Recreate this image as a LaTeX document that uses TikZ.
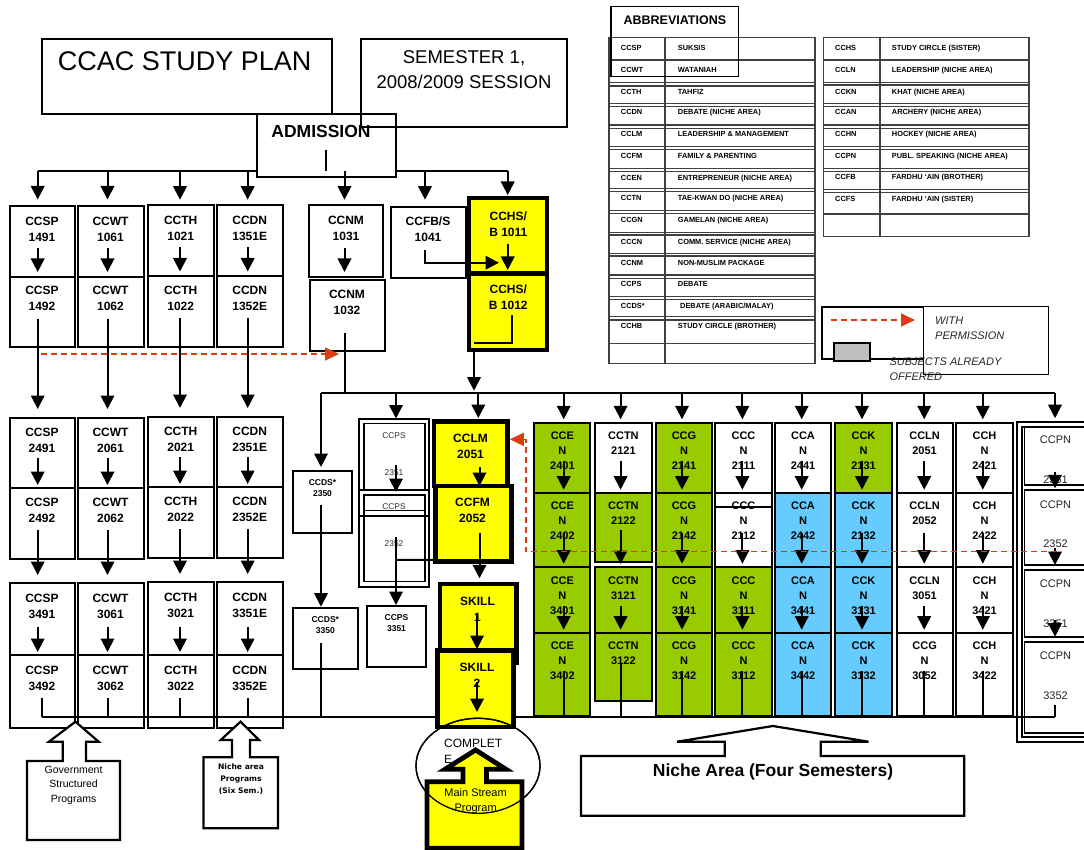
\documentclass[tikz,border=0pt]{standalone}
\usepackage{fontspec}
\setmainfont{Liberation Sans}
\newfontfamily\dejav{DejaVu Sans}
\usetikzlibrary{arrows.meta,calc}
\definecolor{nicheg}{RGB}{153,204,0}
\definecolor{nicheb}{RGB}{102,204,255}
\definecolor{yel}{RGB}{255,255,0}
\definecolor{permred}{RGB}{220,60,15}
\definecolor{legray}{RGB}{190,190,190}
\newcommand\mybx[6]{\node[#6, minimum width={(#4)-(#2)}, minimum height={(#5)-(#3)}] (#1) at ({((#2)+(#4))/2},{((#3)+(#5))/2}) {};}
\newcommand\myvl[5]{\draw[arr] ($(#1 |- #2.center)+(0,#3)$) -- ($(#1 |- #4.north)+(0,-#5)$);}
\newcommand\mygcol[5]{%
  \draw[arr] (#1 |- bus2) -- ($(#1 |- #2.north)+(0,-4)$);
  \myvl{#1}{#2}{3}{#3}{3}
  \myvl{#1}{#3}{3}{#4}{3}
  \myvl{#1}{#4}{6}{#5}{3}
  \draw[lnk] ($(#1 |- #5.center)+(0,-3)$) -- (#1 |- busB);}
\tikzset{
  bx/.style={draw, rectangle, line width=2pt, fill=white, inner sep=0pt, outer sep=0pt},
  ybx/.style={bx, line width=4.8pt, fill=yel},
  gbx/.style={bx, fill=nicheg},
  bbx/.style={bx, fill=nicheb},
  lnk/.style={line width=2pt},
  arr/.style={line width=2pt, -{Triangle[width=13.5pt,length=13.5pt]}},
  perm/.style={draw=permred, line width=1.7pt, dash pattern=on 6pt off 4pt, -{Triangle[width=13pt,length=14pt]}},
  lbt/.style={font=\fontsize{12}{16}\selectfont\bfseries, align=center, inner sep=0pt},
  grt/.style={font=\fontsize{11}{15}\selectfont\bfseries, align=center, inner sep=0pt},
  smt/.style={font=\fontsize{8.5}{11}\selectfont\bfseries, align=center, inner sep=0pt},
  smp/.style={font=\fontsize{8.4}{10}\selectfont, inner sep=0pt, text=black!80},
  pnt/.style={font=\fontsize{11}{13}\selectfont, inner sep=0pt, text=black!85},
  abt/.style={font=\fontsize{7.4}{9}\selectfont\bfseries, anchor=base west, inner sep=0pt},
  tbl/.style={line width=1.3pt, draw=black!75},
  lgt/.style={font=\fontsize{11}{13}\selectfont\itshape, anchor=base west, inner sep=0pt, text=black!85},
  cout/.style={draw, line width=2.2pt, fill=white, line join=miter},
}
\begin{document}
\begin{tikzpicture}[x=1pt,y=-1pt]
\useasboundingbox (0,0) rectangle (1084,850);
\clip (0,0) rectangle (1084,850);

% ---------- reference coordinates
\coordinate (busT) at (0,171);
\coordinate (bus2) at (0,392.7);
\coordinate (busB) at (0,717);
\coordinate (xA) at (37.7,0);
\coordinate (xB) at (107.5,0);
\coordinate (xC) at (180,0);
\coordinate (xD) at (247.7,0);
\coordinate (xN) at (344.5,0);
\coordinate (xF) at (425,0);
\coordinate (xH) at (507.7,0);
\coordinate (xHS) at (474,0);
\coordinate (xS) at (321,0);
\coordinate (xPS) at (396,0);
\coordinate (xL) at (478.3,0);
\coordinate (xLM) at (479.5,0);
\coordinate (xSK) at (477,0);
\coordinate (xe) at (563.7,0);
\coordinate (xt) at (620.6,0);
\coordinate (xg) at (682,0);
\coordinate (xc) at (742.4,0);
\coordinate (xa) at (801.7,0);
\coordinate (xk) at (862,0);
\coordinate (xl) at (924.2,0);
\coordinate (xh) at (982.8,0);
\coordinate (xp) at (1055,0);

% ---------- header
\mybx{ccac}{41.5}{39}{332}{114}{bx,fill=none}
\node[font=\fontsize{27}{30}\selectfont, inner sep=0pt] (ccact) at (184.6,61.7) {CCAC STUDY PLAN};
\mybx{adm}{257}{114}{396}{177}{bx}
\node[font=\fontsize{17.5}{20}\selectfont\bfseries, inner sep=0pt] (admt) at (321,131.7) {ADMISSION};
\draw[line width=1.4pt] ($(adm.south)+(-0.5,-27)$) -- ($(adm.south)+(-0.5,-6)$);
\mybx{sem}{361}{39}{567}{127}{bx,fill=none}
\node[font=\fontsize{18.5}{24.4}\selectfont, align=center, inner sep=0pt] (semt) at (464,69.5) {SEMESTER 1,\\2008/2009 SESSION};

% ---------- abbreviations
\draw[tbl] (609,37.7) rectangle (815,363.3);
\draw[tbl, line width=2pt] (665,37.7) -- (665,363.3);
\foreach \yy in {60,82.7,86,103.3,106.7,125,128.3,146.7,149.3,168.3,171.7,188.3,191.7,210.7,213.3,232.3,235,253.3,256,275,278.3,296.7,299.3,316.7,320,343.3}
  \draw[tbl] (609,\yy) -- (815,\yy);
\draw[tbl] (823.3,37.7) rectangle (1029,236.7);
\draw[tbl, line width=2pt] (880,37.7) -- (880,236.7);
\foreach \yy in {60,82.7,85,103.3,106.7,125,128.3,146.7,149.3,168.3,171.7,189.3,192.7,214}
  \draw[tbl] (823.3,\yy) -- (1029,\yy);
\mybx{abbr}{611}{6.7}{738.3}{76.7}{bx,fill=none,line width=1.5pt}
\node[font=\fontsize{12.5}{14}\selectfont\bfseries, inner sep=0pt] (abbrt) at (674.9,20) {ABBREVIATIONS};

\node[abt] (ac1) at (620.7,50.95) {CCSP};   \node[abt] (ad1) at (677.7,50.95) {SUKSIS};
\node[abt] (ac2) at (620.7,72.65) {CCWT};   \node[abt] (ad2) at (677.7,72.65) {WATANIAH};
\node[abt] (ac3) at (620.7,94.95) {CCTH};   \node[abt] (ad3) at (677.7,94.95) {TAHFIZ};
\node[abt] (ac4) at (620.7,114.95) {CCDN};  \node[abt] (ad4) at (677.7,114.95) {DEBATE (NICHE AREA)};
\node[abt] (ac5) at (620.7,136.95) {CCLM};  \node[abt] (ad5) at (677.7,136.95) {LEADERSHIP \& MANAGEMENT};
\node[abt] (ac6) at (620.7,158.95) {CCFM};  \node[abt] (ad6) at (677.7,158.95) {FAMILY \& PARENTING};
\node[abt] (ac7) at (620.7,180.95) {CCEN};  \node[abt] (ad7) at (677.7,180.95) {ENTREPRENEUR (NICHE AREA)};
\node[abt] (ac8) at (620.7,200.95) {CCTN};  \node[abt] (ad8) at (677.7,200.95) {TAE-KWAN DO (NICHE AREA)};
\node[abt] (ac9) at (620.7,222.95) {CCGN};  \node[abt] (ad9) at (677.7,222.95) {GAMELAN (NICHE AREA)};
\node[abt] (ac10) at (620.7,244.95) {CCCN}; \node[abt] (ad10) at (677.7,244.95) {COMM. SERVICE (NICHE AREA)};
\node[abt] (ac11) at (620.7,265.95) {CCNM}; \node[abt] (ad11) at (677.7,265.95) {NON-MUSLIM PACKAGE};
\node[abt] (ac12) at (620.7,286.95) {CCPS}; \node[abt] (ad12) at (677.7,286.95) {DEBATE};
\node[abt] (ac13) at (620.7,308.95) {CCDS*}; \node[abt] (ad13) at (680,308.95) {DEBATE (ARABIC/MALAY)};
\node[abt] (ac14) at (620.7,328.95) {CCHB}; \node[abt] (ad14) at (677.7,328.95) {STUDY CIRCLE (BROTHER)};

\node[abt] (bc1) at (835,50.95) {CCHS};  \node[abt] (bd1) at (891.7,50.95) {STUDY CIRCLE (SISTER)};
\node[abt] (bc2) at (835,72.65) {CCLN};  \node[abt] (bd2) at (891.7,72.65) {LEADERSHIP (NICHE AREA)};
\node[abt] (bc3) at (835,94.95) {CCKN};  \node[abt] (bd3) at (891.7,94.95) {KHAT (NICHE AREA)};
\node[abt] (bc4) at (835,114.95) {CCAN}; \node[abt] (bd4) at (891.7,114.95) {ARCHERY (NICHE AREA)};
\node[abt] (bc5) at (835,136.95) {CCHN}; \node[abt] (bd5) at (891.7,136.95) {HOCKEY (NICHE AREA)};
\node[abt] (bc6) at (835,158.95) {CCPN}; \node[abt] (bd6) at (891.7,158.95) {PUBL. SPEAKING (NICHE AREA)};
\node[abt] (bc7) at (835,179.95) {CCFB}; \node[abt] (bd7) at (891.7,179.95) {FARDHU ‘AIN (BROTHER)};
\node[abt] (bc8) at (835,201.95) {CCFS}; \node[abt] (bd8) at (891.7,201.95) {FARDHU ‘AIN (SISTER)};

% ---------- legend
\mybx{lg1}{821.7}{306.7}{923.3}{359}{bx,fill=none,line width=1.6pt}
\mybx{lg2}{923.3}{306.7}{1048.3}{374.3}{bx,fill=none,line width=1.6pt}
\mybx{lgg}{834.3}{342.7}{870}{361}{bx,fill=legray}
\draw[perm] ($(lg1.north west)+(9,13.3)$) -- ($(lg1.north west)+(93.3,13.3)$);
\node[lgt] (lgw) at (935,324) {WITH};
\node[lgt] (lgp) at (935,339) {PERMISSION};
\node[lgt] (lgs) at (889.3,365) {SUBJECTS ALREADY};
\node[lgt] (lgo) at (889.3,380.6) {OFFERED};

% ---------- left grid boxes
\mybx{sp1}{9.5}{206}{74.5}{277}{bx}
\mybx{sp2}{9.5}{277}{74.5}{347}{bx}
\mybx{sp3}{9.5}{418}{74.5}{488}{bx}
\mybx{sp4}{9.5}{488}{74.5}{559}{bx}
\mybx{sp5}{9.5}{583}{74.5}{655}{bx}
\mybx{sp6}{9.5}{655}{74.5}{728}{bx}
\mybx{wt1}{78}{206}{143.5}{277}{bx}
\mybx{wt2}{78}{277}{143.5}{347}{bx}
\mybx{wt3}{78}{418}{143.5}{488}{bx}
\mybx{wt4}{78}{488}{143.5}{559}{bx}
\mybx{wt5}{78}{583}{143.5}{655}{bx}
\mybx{wt6}{78}{655}{143.5}{728}{bx}
\mybx{th1}{148}{204.7}{213.5}{276.5}{bx}
\mybx{th2}{148}{276.5}{213.5}{347}{bx}
\mybx{th3}{148}{417}{213.5}{487}{bx}
\mybx{th4}{148}{487}{213.5}{558}{bx}
\mybx{th5}{148}{582}{213.5}{655}{bx}
\mybx{th6}{148}{655}{213.5}{728}{bx}
\mybx{dn1}{217}{204.7}{282.5}{276.5}{bx}
\mybx{dn2}{217}{276.5}{282.5}{347}{bx}
\mybx{dn3}{217}{417}{282.5}{487}{bx}
\mybx{dn4}{217}{487}{282.5}{558}{bx}
\mybx{dn5}{217}{582}{282.5}{655}{bx}
\mybx{dn6}{217}{655}{282.5}{728}{bx}

\node[lbt] (tsp1) at (42,229) {CCSP\\1491};
\node[lbt] (tsp2) at (42,298.5) {CCSP\\1492};
\node[lbt] (tsp3) at (42,440) {CCSP\\2491};
\node[lbt] (tsp4) at (42,510) {CCSP\\2492};
\node[lbt] (tsp5) at (42,606) {CCSP\\3491};
\node[lbt] (tsp6) at (42,678) {CCSP\\3492};
\node[lbt] (twt1) at (110.5,229) {CCWT\\1061};
\node[lbt] (twt2) at (110.5,298.5) {CCWT\\1062};
\node[lbt] (twt3) at (110.5,440) {CCWT\\2061};
\node[lbt] (twt4) at (110.5,510) {CCWT\\2062};
\node[lbt] (twt5) at (110.5,606) {CCWT\\3061};
\node[lbt] (twt6) at (110.5,678) {CCWT\\3062};
\node[lbt] (tth1) at (180.7,228) {CCTH\\1021};
\node[lbt] (tth2) at (180.7,298) {CCTH\\1022};
\node[lbt] (tth3) at (180.7,439) {CCTH\\2021};
\node[lbt] (tth4) at (180.7,509) {CCTH\\2022};
\node[lbt] (tth5) at (180.7,605) {CCTH\\3021};
\node[lbt] (tth6) at (180.7,678) {CCTH\\3022};
\node[lbt] (tdn1) at (249.7,228) {CCDN\\1351E};
\node[lbt] (tdn2) at (249.7,298) {CCDN\\1352E};
\node[lbt] (tdn3) at (249.7,439) {CCDN\\2351E};
\node[lbt] (tdn4) at (249.7,509) {CCDN\\2352E};
\node[lbt] (tdn5) at (249.7,605) {CCDN\\3351E};
\node[lbt] (tdn6) at (249.7,678) {CCDN\\3352E};

% ---------- middle boxes
\mybx{nm1}{308.7}{204.7}{383}{277.3}{bx}
\mybx{nm2}{310}{280}{385}{351}{bx}
\mybx{fb}{390.5}{206.7}{465.5}{278}{bx}
\node[lbt] (tnm1) at (346,228) {CCNM\\1031};
\node[lbt] (tnm2) at (347,302.3) {CCNM\\1032};
\node[lbt] (tfb) at (428,229) {CCFB/S\\1041};

\mybx{ds1}{292.7}{470.7}{352.3}{532.7}{bx}
\mybx{ds2}{292.7}{607.7}{358}{669}{bx}
\node[smt] (tds1) at (322.5,488.3) {CCDS*\\2350};
\node[smt] (tds2) at (325.3,624.8) {CCDS*\\3350};

\mybx{psf}{359}{419}{429}{586.5}{bx}
\mybx{ps1}{364}{423.3}{425}{490}{bx,line width=1.5pt}
\mybx{ps2}{364}{495}{425}{581.7}{bx,line width=1.5pt}
\draw[line width=1.5pt] ($(psf.north west)+(0,71)$) -- ($(psf.north east)+(0,71)$);
\draw[line width=1.5pt] ($(psf.north west)+(0,97)$) -- ($(psf.north east)+(0,97)$);
\node[smp] (tps1a) at (394,436) {CCPS};
\node[smp] (tps1b) at (394,472.7) {2351};
\node[smp] (tps2a) at (394,506.7) {CCPS};
\node[smp] (tps2b) at (394,544) {2352};
\draw[line width=1pt] ($(ps2.north west)+(0,15.7)$) -- ($(ps2.north east)+(0,15.7)$);
\mybx{ps3}{367.3}{606}{426}{667.3}{bx}
\node[smt] (tps3) at (396.5,623.3) {CCPS\\3351};

% ---------- niche grid
\mybx{e1}{534.3}{423.3}{590.4}{492.7}{gbx}
\mybx{e2}{534.3}{492.7}{590.4}{566.7}{gbx}
\mybx{e3}{534.3}{566.7}{590.4}{632.7}{gbx}
\mybx{e4}{534.3}{632.7}{590.4}{716}{gbx}
\mybx{t1}{595}{423.3}{651.8}{492.7}{bx}
\mybx{t2}{595}{492.7}{651.8}{562}{gbx}
\mybx{t3}{595}{567}{651.8}{632.7}{gbx}
\mybx{t4}{595}{632.7}{651.8}{700.7}{gbx}
\mybx{g1}{656}{423.3}{712}{492.7}{gbx}
\mybx{g2}{656}{492.7}{712}{566.7}{gbx}
\mybx{g3}{656}{566.7}{712}{632.7}{gbx}
\mybx{g4}{656}{632.7}{712}{716}{gbx}
\mybx{cc1}{715.4}{423.3}{771.5}{492.7}{bx}
\mybx{cc2}{715.4}{492.7}{771.5}{566.7}{bx}
\mybx{cc3}{715.4}{566.7}{771.5}{632.7}{gbx}
\mybx{cc4}{715.4}{632.7}{771.5}{716}{gbx}
\mybx{a1}{775}{423.3}{831}{492.7}{bx}
\mybx{a2}{775}{492.7}{831}{566.7}{bbx}
\mybx{a3}{775}{566.7}{831}{632.7}{bbx}
\mybx{a4}{775}{632.7}{831}{716}{bbx}
\mybx{k1}{835.4}{423.3}{891.5}{492.7}{gbx}
\mybx{k2}{835.4}{492.7}{891.5}{566.7}{bbx}
\mybx{k3}{835.4}{566.7}{891.5}{632.7}{bbx}
\mybx{k4}{835.4}{632.7}{891.5}{716}{bbx}
\mybx{l1}{896.5}{423.3}{952.6}{492.7}{bx}
\mybx{l2}{896.5}{492.7}{952.6}{566.7}{bx}
\mybx{l3}{896.5}{566.7}{952.6}{632.7}{bx}
\mybx{l4}{896.5}{632.7}{952.6}{716}{bx}
\mybx{h1}{956}{423.3}{1013}{492.7}{bx}
\mybx{h2}{956}{492.7}{1013}{566.7}{bx}
\mybx{h3}{956}{566.7}{1013}{632.7}{bx}
\mybx{h4}{956}{632.7}{1013}{716}{bx}
\draw[line width=1.6pt] ($(cc2.north west)+(0,14)$) -- ($(cc2.north east)+(0,14)$);

\node[grt] (te1) at (562.4,451) {CCE\\N\\2401};
\node[grt] (te2) at (562.4,521) {CCE\\N\\2402};
\node[grt] (te3) at (562.4,596) {CCE\\N\\3401};
\node[grt] (te4) at (562.4,661) {CCE\\N\\3402};
\node[grt] (tt1) at (623.4,443.5) {CCTN\\2121};
\node[grt] (tt2) at (623.4,513.5) {CCTN\\2122};
\node[grt] (tt3) at (623.4,588.5) {CCTN\\3121};
\node[grt] (tt4) at (623.4,653.5) {CCTN\\3122};
\node[grt] (tg1) at (684,451) {CCG\\N\\2141};
\node[grt] (tg2) at (684,521) {CCG\\N\\2142};
\node[grt] (tg3) at (684,596) {CCG\\N\\3141};
\node[grt] (tg4) at (684,661) {CCG\\N\\3142};
\node[grt] (tc1) at (743.5,451) {CCC\\N\\2111};
\node[grt] (tc2) at (743.5,521) {CCC\\N\\2112};
\node[grt] (tc3) at (743.5,596) {CCC\\N\\3111};
\node[grt] (tc4) at (743.5,661) {CCC\\N\\3112};
\node[grt] (ta1) at (803,451) {CCA\\N\\2441};
\node[grt] (ta2) at (803,521) {CCA\\N\\2442};
\node[grt] (ta3) at (803,596) {CCA\\N\\3441};
\node[grt] (ta4) at (803,661) {CCA\\N\\3442};
\node[grt] (tk1) at (863.5,451) {CCK\\N\\2131};
\node[grt] (tk2) at (863.5,521) {CCK\\N\\2132};
\node[grt] (tk3) at (863.5,596) {CCK\\N\\3131};
\node[grt] (tk4) at (863.5,661) {CCK\\N\\3132};
\node[grt] (tl1) at (924.6,443.5) {CCLN\\2051};
\node[grt] (tl2) at (924.6,513.5) {CCLN\\2052};
\node[grt] (tl3) at (924.6,588.5) {CCLN\\3051};
\node[grt] (tl4) at (924.6,661) {CCG\\N\\3052};
\node[grt] (th1t) at (984.5,451) {CCH\\N\\2421};
\node[grt] (th2t) at (984.5,521) {CCH\\N\\2422};
\node[grt] (th3t) at (984.5,596) {CCH\\N\\3421};
\node[grt] (th4t) at (984.5,661) {CCH\\N\\3422};

% ---------- CCPN column
\mybx{pnf}{1016.7}{421.7}{1100}{741.7}{bx,fill=none,line width=1.6pt}
\mybx{pnf2}{1021.7}{426.7}{1100}{736.7}{bx,fill=none,line width=1.6pt}
\mybx{pn1}{1024.5}{426.7}{1100}{485}{bx,line width=1.6pt}
\mybx{pn2}{1024.5}{490}{1100}{565}{bx,line width=1.6pt}
\mybx{pn3}{1024.5}{570}{1100}{636.7}{bx,line width=1.6pt}
\mybx{pn4}{1024.5}{641.7}{1100}{733}{bx,line width=1.6pt}
\node[pnt] (tpn1a) at (1055.5,440) {CCPN};
\node[pnt] (tpn1b) at (1055.5,479.3) {2351};
\node[pnt] (tpn2a) at (1055.5,505) {CCPN};
\node[pnt] (tpn2b) at (1055.5,544) {2352};
\node[pnt] (tpn3a) at (1055.5,583.3) {CCPN};
\node[pnt] (tpn3b) at (1055.5,624) {3351};
\node[pnt] (tpn4a) at (1055.5,656) {CCPN};
\node[pnt] (tpn4b) at (1055.5,696) {3352};

% ---------- connectors (white part)
\draw[lnk] (xA |- busT) -- (adm.west |- busT);
\draw[lnk] (adm.east |- busT) -- (xH |- busT);
\draw[arr] (xA |- busT) -- ($(xA |- sp1.north)+(0,-6.5)$);
\draw[arr] (xB |- busT) -- ($(xB |- wt1.north)+(0,-6.5)$);
\draw[arr] (xC |- busT) -- ($(xC |- th1.north)+(0,-5)$);
\draw[arr] (xD |- busT) -- ($(xD |- dn1.north)+(0,-5)$);
\draw[arr] (xN |- busT) -- ($(xN |- nm1.north)+(0,-5)$);
\draw[arr] (xF |- busT) -- ($(xF |- fb.north)+(0,-7)$);

\myvl{xA}{sp1}{6.5}{sp2}{5}
\myvl{xA}{sp2}{6.5}{sp3}{9}
\myvl{xA}{sp3}{5}{sp4}{3}
\myvl{xA}{sp4}{6.5}{sp5}{8}
\myvl{xA}{sp5}{8}{sp6}{3}
\myvl{xB}{wt1}{6.5}{wt2}{5}
\myvl{xB}{wt2}{6.5}{wt3}{9}
\myvl{xB}{wt3}{5}{wt4}{3}
\myvl{xB}{wt4}{6.5}{wt5}{8}
\myvl{xB}{wt5}{8}{wt6}{3}
\myvl{xC}{th1}{6.5}{th2}{5}
\myvl{xC}{th2}{6.5}{th3}{9}
\myvl{xC}{th3}{5}{th4}{3}
\myvl{xC}{th4}{6.5}{th5}{8}
\myvl{xC}{th5}{8}{th6}{3}
\myvl{xD}{dn1}{6.5}{dn2}{5}
\myvl{xD}{dn2}{6.5}{dn3}{9}
\myvl{xD}{dn3}{5}{dn4}{3}
\myvl{xD}{dn4}{6.5}{dn5}{8}
\myvl{xD}{dn5}{8}{dn6}{3}
\draw[lnk] ($(sp6.center)+(0,6.5)$) -- (sp6.center |- busB);
\draw[lnk] ($(xB |- wt6.center)+(0,6.5)$) -- (xB |- busB);
\draw[lnk] ($(xC |- th6.center)+(0,6.5)$) -- (xC |- busB);
\draw[lnk] ($(xD |- dn6.center)+(0,6.5)$) -- (xD |- busB);
\draw[lnk] (sp6.center |- busB) -- (xp |- busB);

\myvl{xN}{nm1}{7}{nm2}{8}
\draw[lnk] ($(xN |- nm2.center)+(0,17.5)$) -- (xN |- bus2);
\draw[lnk] (xS |- bus2) -- (xp |- bus2);
\draw[arr] (xS |- bus2) -- ($(xS |- ds1.north)+(0,-3.7)$);
\myvl{xS}{ds1}{3.3}{ds2}{1}
\draw[lnk] ($(xS |- ds2.center)+(0,4.7)$) -- (xS |- busB);
\draw[arr] (xPS |- bus2) -- ($(xPS |- psf.north)+(0,-0.5)$);
\draw[arr] ($(xPS |- ps1.center)+(0,8.3)$) -- ($(xPS |- ps1.south)+(0,2)$);
\myvl{xPS}{ps2}{-1.6}{ps3}{1}

\mygcol{xe}{e1}{e2}{e3}{e4}
\mygcol{xt}{t1}{t2}{t3}{t4}
\mygcol{xg}{g1}{g2}{g3}{g4}
\mygcol{xc}{cc1}{cc2}{cc3}{cc4}
\mygcol{xa}{a1}{a2}{a3}{a4}
\mygcol{xk}{k1}{k2}{k3}{k4}
\mygcol{xl}{l1}{l2}{l3}{l4}
\mygcol{xh}{h1}{h2}{h3}{h4}

\draw[arr] (xp |- bus2) -- ($(xp |- pnf.north)+(0,-3.5)$);
\myvl{xp}{pn1}{15.8}{pn2}{1.7}
\myvl{xp}{pn2}{20.5}{pn3}{5}
\myvl{xp}{pn3}{16.6}{pn4}{5}
\draw[lnk] ($(xp |- pn4.center)+(0,17.6)$) -- (xp |- busB);

% ---------- main stream (yellow)
\mybx{hs1}{469}{198}{547}{273.3}{ybx}
\mybx{hs2}{469}{273.3}{547}{350}{ybx}
\mybx{lm}{434}{421.7}{507.3}{486}{ybx}
\mybx{fm}{435.7}{486}{511.7}{561.7}{ybx}
\mybx{sk1}{440}{584}{516.7}{662.7}{ybx}
\mybx{sk2}{437.7}{650.7}{513.3}{727}{ybx}
\node[lbt] (ths1) at (508.3,224.2) {CCHS/\\B 1011};
\node[lbt] (ths2) at (508.3,297.2) {CCHS/\\B 1012};
\node[lbt] (tlm) at (470.5,446.2) {CCLM\\2051};
\node[lbt] (tfm) at (472.5,510) {CCFM\\2052};
\node[lbt] (tsk1) at (477.5,609.8) {SKILL\\1};
\node[lbt] (tsk2) at (477,675.7) {SKILL\\2};

\draw[arr] (xH |- busT) -- ($(xH |- hs1.north)+(0,-3)$);
\myvl{xH}{hs1}{8.4}{hs2}{3.3}
\draw[arr] ($(xF |- fb.center)+(0,7.6)$) |- ($(hs1.south west)+(30,-10.6)$);
\draw[lnk] ($(hs2.center)+(3.5,3.5)$) |- ($(xHS |- hs2.south)+(0,-6.7)$);
\draw[arr] (xHS |- hs2.south) -- ($(xHS |- bus2)+(0,-2)$);
\draw[arr] (xL |- bus2) -- ($(xL |- lm.north)+(0,-3.7)$);
\myvl{xLM}{lm}{13}{fm}{0}
\myvl{xLM}{fm}{8.8}{sk1}{5.7}
\myvl{xSK}{sk1}{-10.3}{sk2}{1.7}
\draw[arr] ($(xSK |- sk2.center)+(0,-7)$) -- ($(xSK |- sk2.south)+(0,-15)$);
\draw[lnk] ($(xPS |- ps2.center)+(0,21.6)$) -- ($(fm.south west)+(0,-1.7)$);

% ---------- with-permission arrows
\draw[perm] ($(sp2.south)+(-1.5,7)$) -- ($(xN |- nm2.south)+(-5.5,3)$);
\draw[perm] ($(xp |- pn2.center)+(2,24)$) -| ($(lm.east)+(18.7,-14.5)$) -- ($(lm.east)+(2.5,-14.5)$);

% ---------- bottom callouts
\draw[cout] (27,840) -- (27,761) -- (62.8,761) -- (62.8,741.7) -- (49,741.7) -- (75.4,721.7) -- (98.7,741.7) -- (86,741.7) -- (86,761) -- (120,761) -- (120,840) -- cycle;
\node[font=\fontsize{10.5}{14.8}\selectfont, align=center, inner sep=0pt] (govt) at (73.6,785.3) {Government\\Structured\\Programs};

\draw[cout] (203.5,828.3) -- (203.5,757.3) -- (232,757.3) -- (232,740) -- (220.7,740) -- (240.5,721.7) -- (259,740) -- (250,740) -- (250,757.3) -- (278,757.3) -- (278,828.3) -- cycle;
\node[font=\dejav\fontsize{7.6}{12}\selectfont\bfseries, align=center, inner sep=0pt] (nicht) at (241,778.8) {Niche area\\Programs\\(Six Sem.)};

\draw[line width=1.3pt] (478,765.8) ellipse [x radius=62, y radius=47.5];
\draw[cout, fill=yel, line width=4.8pt] (427,848.3) -- (427,781.7) -- (463,781.7) -- (463,769.3) -- (445,769.3) -- (475.6,750) -- (506,769.3) -- (486.4,769.3) -- (486.4,781.7) -- (522,781.7) -- (522,848.3) -- cycle;
\draw[line width=1.3pt] (478,765.8) ellipse [x radius=62, y radius=47.5];
\node[font=\fontsize{12}{16}\selectfont, align=left, anchor=west, inner sep=0pt] (compt) at (444,751.3) {COMPLET\\E};
\node[font=\fontsize{11}{15}\selectfont, align=center, inner sep=0pt] (mst) at (475.6,801.6) {Main Stream\\Program};

\draw[cout] (581,815.7) -- (581,756) -- (724.8,756) -- (724.8,741.7) -- (677,741.7) -- (772.9,726) -- (868.5,741.7) -- (820.7,741.7) -- (820.7,756) -- (964.3,756) -- (964.3,815.7) -- cycle;
\node[font=\fontsize{17.5}{20}\selectfont\bfseries, anchor=base, inner sep=0pt] (nat) at (773,776.3) {Niche Area (Four Semesters)};
\end{tikzpicture}
\end{document}
